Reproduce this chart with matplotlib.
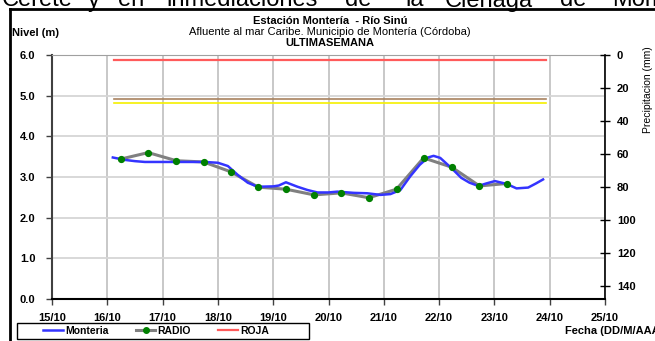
import matplotlib
matplotlib.use("Agg")
import matplotlib.pyplot as plt
from matplotlib.lines import Line2D
from matplotlib.patches import Rectangle

plt.rcParams['font.family'] = ['Liberation Sans', 'DejaVu Sans']

# tiempo en días de octubre (la parte decimal es la hora del día)
dias_monteria = [16.10, 16.32, 16.50, 16.68, 17.00, 17.25, 17.50, 17.76, 18.00, 18.18,
                 18.36, 18.54, 18.72, 19.00, 19.10, 19.23, 19.44, 19.62, 19.80, 20.00,
                 20.16, 20.46, 20.70, 20.94, 21.12, 21.30, 21.48, 21.65, 21.80, 21.90,
                 22.02, 22.23, 22.40, 22.55, 22.71, 22.85, 23.01, 23.22, 23.40, 23.61,
                 23.75, 23.88]
nivel_monteria = [3.48, 3.42, 3.39, 3.37, 3.37, 3.37, 3.37, 3.37, 3.35, 3.27,
                  3.05, 2.86, 2.76, 2.77, 2.79, 2.87, 2.76, 2.68, 2.62, 2.62,
                  2.64, 2.61, 2.60, 2.56, 2.58, 2.68, 3.02, 3.30, 3.48, 3.52,
                  3.47, 3.21, 2.98, 2.86, 2.78, 2.84, 2.90, 2.83, 2.72, 2.74,
                  2.84, 2.94]

# lecturas reportadas por radio (6 am y 6 pm)
dias_radio = [16.24, 16.74, 17.25, 17.74, 18.23, 18.73, 19.23, 19.74, 20.23, 20.73,
              21.23, 21.72, 22.23, 22.73, 23.22]
nivel_radio = [3.44, 3.60, 3.40, 3.37, 3.13, 2.75, 2.70, 2.56, 2.61, 2.49,
               2.70, 3.47, 3.24, 2.78, 2.84]

# umbrales de alerta
dias_umbral = [16.12, 23.94]
alerta_roja = 5.87
alerta_naranja = 4.92
alerta_amarilla = 4.83

dias_ticks = list(range(15, 26))
etiquetas_x = [f"{d}/10" for d in dias_ticks]
niveles_ticks = [0, 1, 2, 3, 4, 5, 6]
precip_ticks = [0, 20, 40, 60, 80, 100, 120, 140]

W, H = 655, 341
fig = plt.figure(figsize=(W / 100, H / 100), dpi=100)
ax = fig.add_axes([52 / W, 1 - 299 / H, (605 - 52) / W, (299 - 55) / H])

ax.plot(dias_umbral, [alerta_roja] * 2, color='#ff5a5a', lw=1.6, zorder=3)
ax.plot(dias_umbral, [alerta_naranja] * 2, color='#a8825f', lw=1.2, zorder=3)
ax.plot(dias_umbral, [alerta_amarilla] * 2, color='#f5f000', lw=1.2, zorder=3)

ax.plot(dias_radio, nivel_radio, color='#808080', lw=2.2, zorder=4)
ax.plot(dias_monteria, nivel_monteria, color='#3434ff', lw=1.8, zorder=5)
ax.plot(dias_radio, nivel_radio, ls='none', marker='o', ms=4.2,
        mfc='#008000', mec='#008000', zorder=6)

ax.set_xlim(15, 25)
ax.set_ylim(0, 6)
ax.set_xticks(dias_ticks)
ax.set_xticklabels(etiquetas_x, fontsize=8, fontweight='bold')
ax.set_yticks(niveles_ticks)
ax.set_yticklabels([f"{v:.1f}" for v in niveles_ticks], fontsize=8, fontweight='bold')
ax.xaxis.grid(True, color='#c4c4c4', lw=1.3)
ax.yaxis.grid(True, color='#d6d6d6', lw=1.3)
ax.set_axisbelow(True)
ax.tick_params(axis='both', direction='out', length=4, width=1, color='#404040')
ax.tick_params(axis='x', pad=6)
ax.tick_params(axis='y', pad=8)
ax.spines['top'].set_color('#a0a0a0')
ax.spines['left'].set_color('#404040')
ax.spines['left'].set_linewidth(1.5)
ax.spines['bottom'].set_color('black')
ax.spines['bottom'].set_linewidth(1.5)
ax.spines['right'].set_visible(False)

# eje de precipitación (invertido)
ax2 = ax.twinx()
ax2.set_ylim(148, 0)
ax2.set_yticks(precip_ticks)
ax2.set_yticklabels([str(v) for v in precip_ticks], fontsize=8, fontweight='bold')
ax2.tick_params(axis='y', direction='inout', length=7, width=1, pad=5)
for s in ['top', 'left', 'bottom']:
    ax2.spines[s].set_visible(False)
ax2.spines['right'].set_color('black')
ax2.spines['right'].set_linewidth(1.2)

# textos
fig.text(330 / W, 1 - 21 / H, "Estación Montería  - Río Sinú", ha='center', va='center',
         fontsize=8, fontweight='bold')
fig.text(330 / W, 1 - 32 / H, "Afluente al mar Caribe. Municipio de Montería (Córdoba)",
         ha='center', va='center', fontsize=8)
fig.text(330 / W, 1 - 42.5 / H, "ULTIMASEMANA", ha='center', va='center',
         fontsize=8, fontweight='bold')
fig.text(12 / W, 1 - 33 / H, "Nivel (m)", ha='left', va='center', fontsize=8, fontweight='bold')
fig.text(648 / W, 1 - 90 / H, "Precipitacion (mm)", ha='center', va='center',
         rotation=90, fontsize=7.5)
fig.text(565 / W, 1 - 331 / H, "Fecha (DD/M/AAAA)", ha='left', va='center',
         fontsize=8, fontweight='bold')

# texto del documento cortado arriba
palabras = ["Cereté", "y", "en", "inmediaciones", "de", "la", "Ciénaga", "de", "Momil"]
x_palabras = [2, 88, 118, 166, 345, 405, 445, 560, 612]
for p, xp in zip(palabras, x_palabras):
    fig.text(xp / W, 1 - 6.5 / H, p, ha='left', va='baseline', fontsize=17)

# marco del gráfico
fig.add_artist(Line2D([10 / W, 10 / W], [0, 1 - 9 / H], color='black', lw=2))
fig.add_artist(Line2D([10 / W, 1], [1 - 9 / H, 1 - 9 / H], color='black', lw=2))

# leyenda
handles = [
    Line2D([], [], color='#3434ff', lw=1.8),
    Line2D([], [], color='#808080', lw=2.2, marker='o', ms=4, mfc='#008000', mec='#008000'),
    Line2D([], [], color='#ff5a5a', lw=1.6),
]
fig.legend(handles, ["Monteria", "RADIO", "ROJA"], loc='center left',
           bbox_to_anchor=(38 / W, 1 - 331 / H), ncol=3, frameon=False,
           prop={'size': 7.5, 'weight': 'bold'}, handlelength=1.9,
           handletextpad=0.2, columnspacing=2.6, borderpad=0)
fig.add_artist(Rectangle((17 / W, 1 - 339 / H), (309 - 17) / W, 16 / H,
                         transform=fig.transFigure, fill=False, ec='black', lw=1))

fig.savefig("out.png", dpi=100)
